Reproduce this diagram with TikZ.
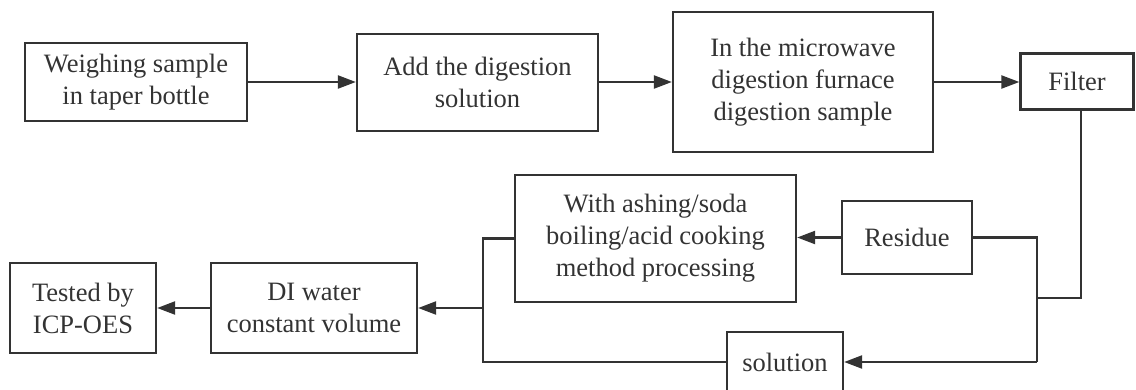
\documentclass[tikz,border=0pt]{standalone}
\usepackage{fontspec}
\setmainfont{Liberation Serif}
\usetikzlibrary{arrows.meta,calc}
\definecolor{ink}{HTML}{333333}
\definecolor{txt}{HTML}{333333}
\tikzset{
  box/.style={draw=ink, line width=2.3pt, rectangle, inner sep=0pt, align=center,
    text=txt, font=\fontsize{26.5}{32}\selectfont},
  conn/.style={draw=ink, line width=2.3pt},
  arr/.style={conn, -{Triangle[length=18pt,width=13pt]}}
}
\begin{document}
\begin{tikzpicture}[x=1pt,y=-1pt]
\useasboundingbox (0,0) rectangle (1136,389);
\node[box, minimum width=222pt, minimum height=78pt] (A) at (136,82) {Weighing sample\\in taper bottle};
\node[box, minimum width=241pt, minimum height=97pt] (B) at (477.5,82.5) {Add the digestion\\solution};
\node[box, minimum width=260pt, minimum height=140pt] (C) at (803,82) {In the microwave\\digestion furnace\\digestion sample};
\node[box, minimum width=113pt, minimum height=56pt] (F) at (1077,81.5) {Filter};
\node[box, minimum width=130pt, minimum height=73pt] (R) at (907,237.5) {Residue};
\node[box, minimum width=281pt, minimum height=127pt] (P) at (655.5,238.5) {With ashing/soda\\boiling/acid cooking\\method processing};
\node[box, minimum width=116pt, minimum height=60pt] (S) at (785,362) {solution};
\node[box, minimum width=206pt, minimum height=90pt] (D) at (314,308) {DI water\\constant volume};
\node[box, minimum width=146pt, minimum height=90pt] (T) at (83,308) {Tested by\\ICP-OES};
\coordinate (jr) at (1037,237.5);
\coordinate (js) at (1037,362);
\coordinate (jm) at (1037,298);
\coordinate (fb) at (1081,298);
\coordinate (lp) at (483,238.5);
\coordinate (ls) at (483,362);
\coordinate (ld) at (483,308);
\draw[arr] (A.east) -- (B.west |- A.east);
\draw[arr] (B.east |- A.east) -- (C.west |- A.east);
\draw[arr] (C.east |- A.east) -- (F.west |- A.east);
\draw[conn] (F.south -| fb) -- (fb) -- (jm);
\draw[conn] (R.east) -- (jr) -- (js);
\draw[arr] (js) -- (S.east);
\draw[arr] (R.west) -- (P.east |- R.west);
\draw[conn] (P.west) -- (lp) -- (ls) -- (S.west);
\draw[arr] (ld) -- (D.east);
\draw[arr] (D.west) -- (T.east);
\end{tikzpicture}
\end{document}
